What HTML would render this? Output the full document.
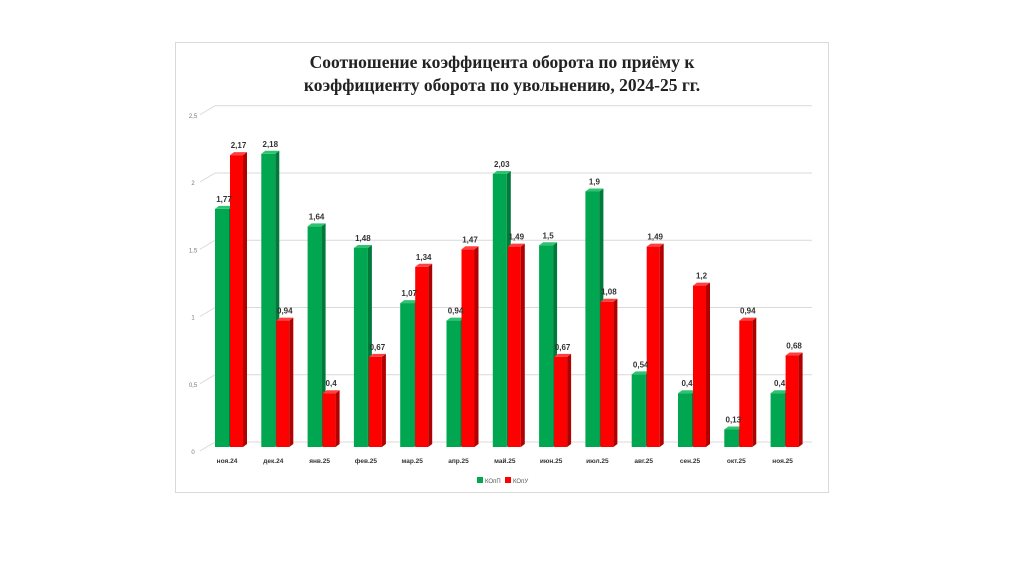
<!DOCTYPE html>
<html><head><meta charset="utf-8"><style>
body{margin:0;background:#fff;width:1024px;height:574px;overflow:hidden;font-family:"Liberation Sans",sans-serif}
</style></head><body>
<svg width="1024" height="574">
<rect x="175.5" y="42.5" width="653" height="450" fill="#fff" stroke="#d9d9d9"/>
<text x="502" y="68" text-anchor="middle" font-family="Liberation Serif,serif" font-weight="bold" font-size="17.5" fill="#222">Соотношение коэффицента оборота по приёму к</text>
<text x="502" y="91" text-anchor="middle" font-family="Liberation Serif,serif" font-weight="bold" font-size="17.5" fill="#222">коэффициенту оборота по увольнению, 2024-25 гг.</text>
<g id="grid"></g><g id="bars"></g><g id="labels"></g>
<g>
<rect x="477" y="477" width="6" height="6" fill="#00a650"/>
<text x="485" y="483" font-size="6" fill="#555">КОпП</text>
<rect x="505" y="477" width="6" height="6" fill="#ff0000"/>
<text x="513" y="483" font-size="6" fill="#555">КОпУ</text>
</g>
</svg>
<script>
const categories=["ноя.24","дек.24","янв.25","фев.25","мар.25","апр.25","май.25","июн.25","июл.25","авг.25","сен.25","окт.25","ноя.25"];
const seriesP=[1.77,2.18,1.64,1.48,1.07,0.94,2.03,1.5,1.9,0.54,0.4,0.13,0.4];
const seriesU=[2.17,0.94,0.4,0.67,1.34,1.47,1.49,0.67,1.08,1.49,1.2,0.94,0.68];
const ticks=[0,0.5,1,1.5,2,2.5];
const tickLabels=["0","0,5","1","1,5","2","2,5"];
const NS="http://www.w3.org/2000/svg";
const y0=447,k=134.5;
const yv=v=>y0-v*k;
const xs=i=>215+i*46.3;
function mk(t,a,p){const e=document.createElementNS(NS,t);for(const n in a)e.setAttribute(n,a[n]);p.appendChild(e);return e;}
const G=document.getElementById('grid'),B=document.getElementById('bars'),L=document.getElementById('labels');
ticks.forEach((t,i)=>{
 const y=yv(t)-5;
 const ln=mk('line',{x1:215,x2:812,y1:y,y2:y,stroke:'#d9d9d9','stroke-width':1},G);
 
 
 const d=mk('line',{x1:200,y1:y+9,x2:215,y2:y,stroke:'#d9d9d9'},G);
 
 
 const tx=mk('text',{x:193,y:y+12,'text-anchor':'middle','font-size':6,fill:'#777'},G);
 tx.textContent=tickLabels[i];
 
 
});
function bar(x,w,v,front,side,top,name,lab){
 const yt=yv(v);
 const g=mk('g',{},B);
 
 
 mk('rect',{x:x,y:yt,width:w,height:y0-yt,fill:front},g);
 mk('polygon',{points:`${x+w},${yt} ${x+w+4},${yt-3} ${x+w+4},${y0-3} ${x+w},${y0}`,fill:side},g);
 mk('polygon',{points:`${x},${yt} ${x+4},${yt-3} ${x+w+4},${yt-3} ${x+w},${yt}`,fill:top},g);
 const t=mk('text',{x:x+w/2+2,y:yt-7,'text-anchor':'middle','font-size':8,'font-weight':'bold',fill:'#333'},L);
 t.textContent=lab;
 
 
}
categories.forEach((c,i)=>{
 const x=xs(i);
 bar(x,14,seriesP[i],'#00a650','#007a3a','#2ec46f','bar-kopp-'+i,String(seriesP[i]).replace('.',','));
 bar(x+15,13,seriesU[i],'#ff0000','#b00000','#ff4040','bar-kopu-'+i,String(seriesU[i]).replace('.',','));
 const t=mk('text',{x:x+12,y:463,'text-anchor':'middle','font-size':6.5,'font-weight':'bold',fill:'#333'},L);
 t.textContent=c;
 
 
});
</script>
</body></html>
